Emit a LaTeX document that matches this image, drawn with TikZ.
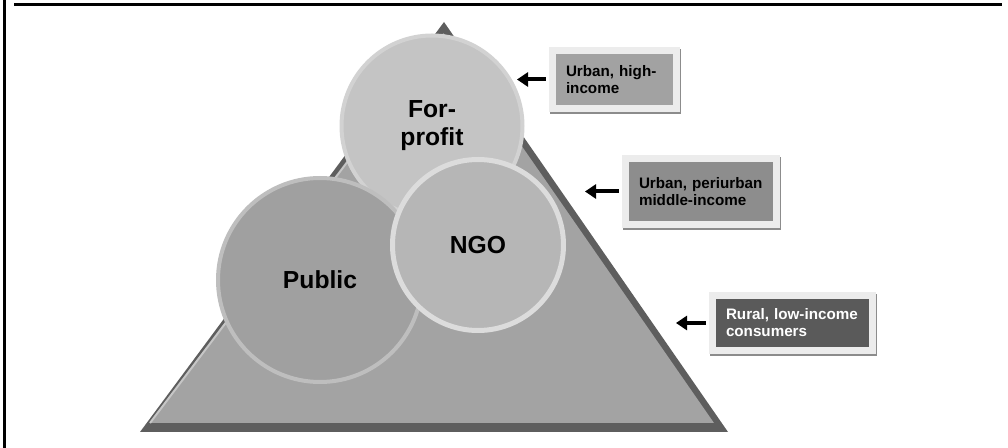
\documentclass[tikz,border=0pt]{standalone}
\usepackage{fontspec}
\setmainfont{Liberation Sans}
\usetikzlibrary{positioning,arrows.meta}

\definecolor{rimdark}{HTML}{5E5E5E}
\definecolor{basegray}{HTML}{A3A3A3}
\definecolor{rimlight}{HTML}{C6C6C6}
\definecolor{profitfill}{HTML}{C4C4C4}
\definecolor{profitline}{HTML}{D2D2D2}
\definecolor{publicfill}{HTML}{A0A0A0}
\definecolor{publicline}{HTML}{BEBEBE}
\definecolor{ngofill}{HTML}{B6B6B6}
\definecolor{ngoline}{HTML}{DCDCDC}
\definecolor{framegray}{HTML}{ECECEC}
\definecolor{shadowgray}{HTML}{8C8C8C}
\definecolor{highgray}{HTML}{A2A2A2}
\definecolor{midgray}{HTML}{8D8D8D}
\definecolor{lowgray}{HTML}{5A5A5A}

\begin{document}
\begin{tikzpicture}[%
    x=0.75pt,
    y=-0.75pt,
    >={Triangle[length=8.25pt,width=10.5pt]},
    sector/.style={%
      circle,
      line width=3pt,
      align=center,
      font=\fontsize{18.5}{21}\selectfont\bfseries},
    market/.style={%
      rectangle,
      draw=framegray,
      line width=5.25pt,
      inner xsep=10.125pt,
      inner ysep=0pt,
      align=left,
      font=\fontsize{11.4}{12.75}\selectfont\bfseries,
      preaction={draw=shadowgray,
        transform canvas={shift={(0.8pt,-1.5pt)}}}},
    pointer/.style={%
      ->,
      line width=3pt,
      shorten <=2.6pt}
    ]
    \useasboundingbox (0,0) rectangle (1008,448);
    % frame
    \draw[line width=2.25pt] (4,0) -- (4,448);
    \draw[line width=2.25pt] (14,5) -- (1002,5);
    % pyramid
    \fill[rimdark] (444,22) -- (140,432) -- (728,432) -- cycle;
    \fill[basegray] (444,34) -- (150,423) -- (714,423) -- cycle;
    \draw[rimlight, line width=1.5pt] (444,34) -- (150,423);
    % providers
    \node[sector, fill=profitfill, draw=profitline,
          minimum size=135.75pt] (1) at (432,126) {For-\\profit};
    \node[sector, fill=publicfill, draw=publicline,
          minimum size=153pt] (2) at (320,280) {Public};
    \node[sector, fill=ngofill, draw=ngoline, line width=3.75pt,
          minimum size=128.25pt] (3) at (478,245) {NGO};
    % markets
    \node[market, fill=highgray, text width=72.75pt,
          minimum height=43.5pt] (4) at (614.5,79.5) {Urban, high-\\income};
    \node[market, fill=midgray, text width=93pt,
          minimum height=49.5pt] (5) at (701,191.5) {Urban, periurban\\middle-income};
    \node[market, fill=lowgray, text=white, text width=99.75pt,
          minimum height=41.25pt] (6) at (792.5,323) {Rural, low-income\\consumers};
    \coordinate (a4) at (517,79.5);
    \coordinate (a5) at (585,191.5);
    \coordinate (a6) at (676,323);
    \path[pointer] (4.west) edge (a4)
                   (5.west) edge (a5)
                   (6.west) edge (a6);
\end{tikzpicture}
\end{document}
